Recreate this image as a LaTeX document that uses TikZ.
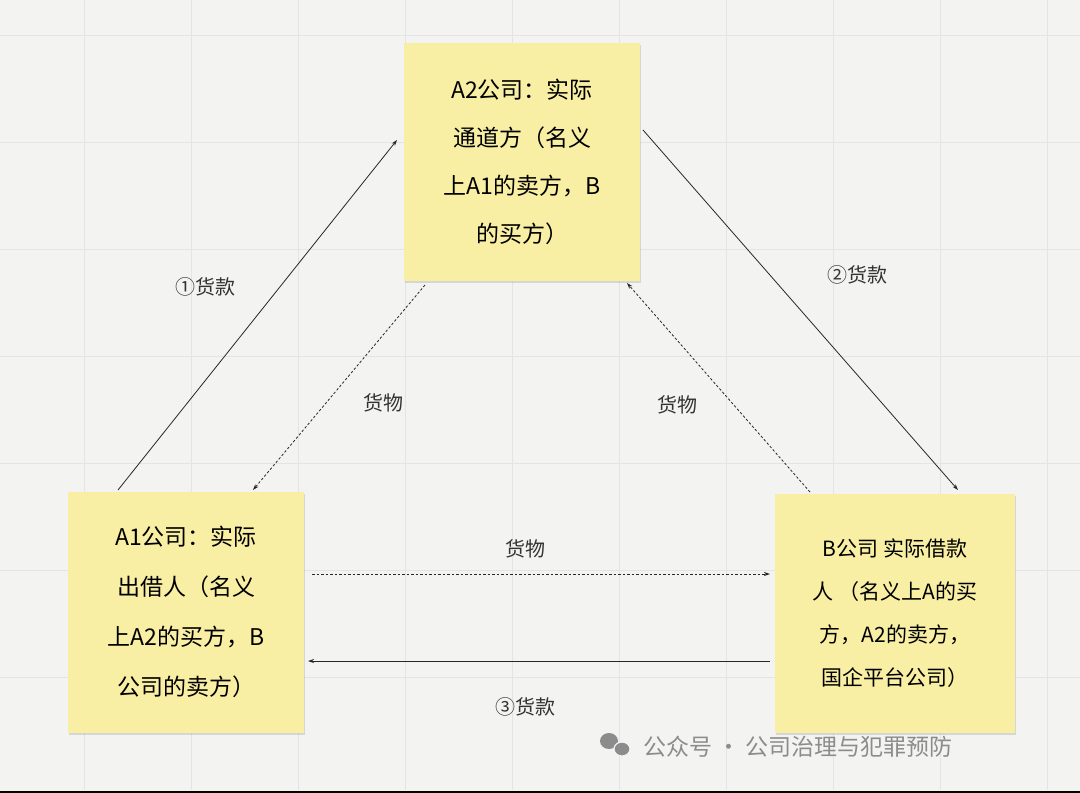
\documentclass[tikz,border=0pt]{standalone}
\usepackage{fontspec}
\setmainfont{Noto Sans CJK SC}
\usetikzlibrary{arrows.meta,shadows}
\definecolor{note}{HTML}{F8EEA4}
\definecolor{gridc}{HTML}{E4E4E4}
\definecolor{bg}{HTML}{F3F3F2}
\tikzset{x=1pt,y=-1pt,
 notebox/.style={fill=note,minimum width=236pt,minimum height=238pt,align=center,drop shadow={shadow xshift=1pt,shadow yshift=-2pt,opacity=0.25}},
 conn/.style={draw=black!85,line width=0.8pt,-{Stealth[length=6pt,width=4pt]}},
 dconn/.style={conn,dash pattern=on 2.5pt off 2pt},
 lab/.style={font=\fontsize{20}{24}\selectfont,text=black!80}}
\begin{document}
\begin{tikzpicture}
\useasboundingbox (0,0) rectangle (1080,793);
\fill[bg] (0,0) rectangle (1080,793);
\foreach \i in {-23,84,191,298,405,512,619,726,833,940,1047} \draw[gridc,line width=0.8pt] (\i,0) -- (\i,790);
\foreach \j in {35,142,249,356,463,570,677} \draw[gridc,line width=0.8pt] (0,\j) -- (1080,\j);
\draw[black,line width=2pt] (0,792) -- (1080,792);
\node[notebox,font=\fontsize{23}{48}\selectfont] (a2) at (522,162) {A2公司：实际\\通道方（名义\\上A1的卖方，B\\的买方）};
\node[notebox,minimum height=241pt,font=\fontsize{23}{50}\selectfont] (a1) at (186,612) {A1公司：实际\\出借人（名义\\上A2的买方，B\\公司的卖方）};
\node[notebox,minimum width=240pt,minimum height=239pt,font=\fontsize{21}{43}\selectfont] (b) at (895,613) {B公司 实际借款\\人 （名义上A的买\\方，A2的卖方，\\国企平台公司）};
\coordinate (p1) at (118,490); \coordinate (p2) at (397,140);
\draw[conn] (p1) -- (p2);
\coordinate (q1) at (643,130); \coordinate (q2) at (958,490);
\draw[conn] (q1) -- (q2);
\coordinate (r1) at (425,285); \coordinate (r2) at (253,490);
\draw[dconn] (r1) -- (r2);
\coordinate (s1) at (810,492); \coordinate (s2) at (627,283);
\draw[dconn] (s1) -- (s2);
\coordinate (t1) at (312,574); \coordinate (t2) at (770,574);
\draw[dconn] (t1) -- (t2);
\coordinate (u1) at (770,661); \coordinate (u2) at (308,661);
\draw[conn] (u1) -- (u2);
\node[lab] (l1) at (205,287) {①货款};
\node[lab] (l2) at (857,275) {②货款};
\node[lab] (l3) at (383,403) {货物};
\node[lab] (l4) at (677,405) {货物};
\node[lab] (l5) at (525,549) {货物};
\node[lab] (l6) at (525,707) {③货款};
\fill[black!45] (609,741) ellipse (9pt and 8pt);
\fill[black!45,draw=bg,line width=1.2pt] (622,749) ellipse (8pt and 7pt);
\node[font=\fontsize{23}{28}\selectfont,text=black!45,anchor=west] (wm) at (640,747) {公众号 · 公司治理与犯罪预防};
\end{tikzpicture}
\end{document}
